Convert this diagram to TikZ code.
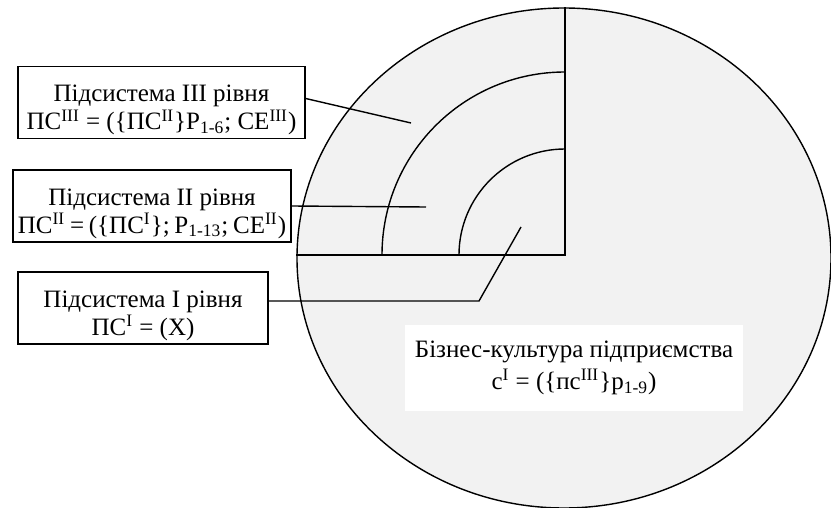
\documentclass[tikz,border=0pt]{standalone}
\usepackage{fontspec}
\setmainfont{Liberation Serif}
\usetikzlibrary{shapes.geometric}

\newcommand\ryadky[1]{\fontsize{12.5}{#1}\selectfont\lineskiplimit=-10pt\relax}

\begin{document}
\begin{tikzpicture}[
  x=0.5pt, y=-0.5pt,
  font=\ryadky{14},
  pidsys/.style={
    draw, fill=white, line width=0.7pt,
    align=center, inner sep=0pt,
    minimum height=36pt
  },
  vkaz/.style={line width=0.7pt},
  mezha/.style={line width=0.7pt}
]
\useasboundingbox (0,0) rectangle (831,508);

% ----- Business culture -----
\node[ellipse, draw, fill=black!5, line width=0.7pt, inner sep=0pt,
  minimum width=267pt, minimum height=250pt] (kultura) at (564,258) {};

\coordinate (o) at (565,255);
\draw[mezha] (kultura.west |- o) -- (o) -- (o |- kultura.north);
\draw[mezha] (o) ++(0,-106) arc[start angle=270, end angle=180, radius=106];
\draw[mezha] (o) ++(0,-183) arc[start angle=270, end angle=180, radius=183];

\node[fill=white, inner sep=0pt, align=center, font=\ryadky{16},
  minimum width=169pt, minimum height=43pt] (nazva) at (574,368)
  {Бізнес-культура підприємства\\
   c\textsuperscript{I} = (\{пс\textsuperscript{III}\}p\textsubscript{1-9})};

% ----- Subsystems -----
\node[pidsys, minimum width=143.5pt] (p3) at (161.5,102.5)
  {\rule{0pt}{16pt}Підсистема III рівня\\
   ПС\textsuperscript{III} = (\{ПС\textsuperscript{II}\}Р\textsubscript{1-6}; СЕ\textsuperscript{III})};
\node[pidsys, minimum width=139pt] (p2) at (152,206)
  {\rule{0pt}{16pt}Підсистема II рівня\\
   \spaceskip=0.19em ПС\textsuperscript{II} = (\{ПС\textsuperscript{I}\}; Р\textsubscript{1-13}; СЕ\textsuperscript{II})};
\node[pidsys, minimum width=125pt] (p1) at (143,308)
  {\rule{0pt}{16pt}Підсистема I рівня\\
   ПС\textsuperscript{I} = (X)};

% ----- Pointers -----
\coordinate (v3) at (411,123);
\coordinate (v2) at (426,207);
\coordinate (k1) at (479,301);
\coordinate (v1) at (521,227);
\draw[vkaz] ([yshift=2pt]p3.east) -- (v3);
\draw[vkaz] (p2.east) -- (v2);
\draw[vkaz] (p1.east |- k1) -- (k1) -- (v1);

\end{tikzpicture}
\end{document}
